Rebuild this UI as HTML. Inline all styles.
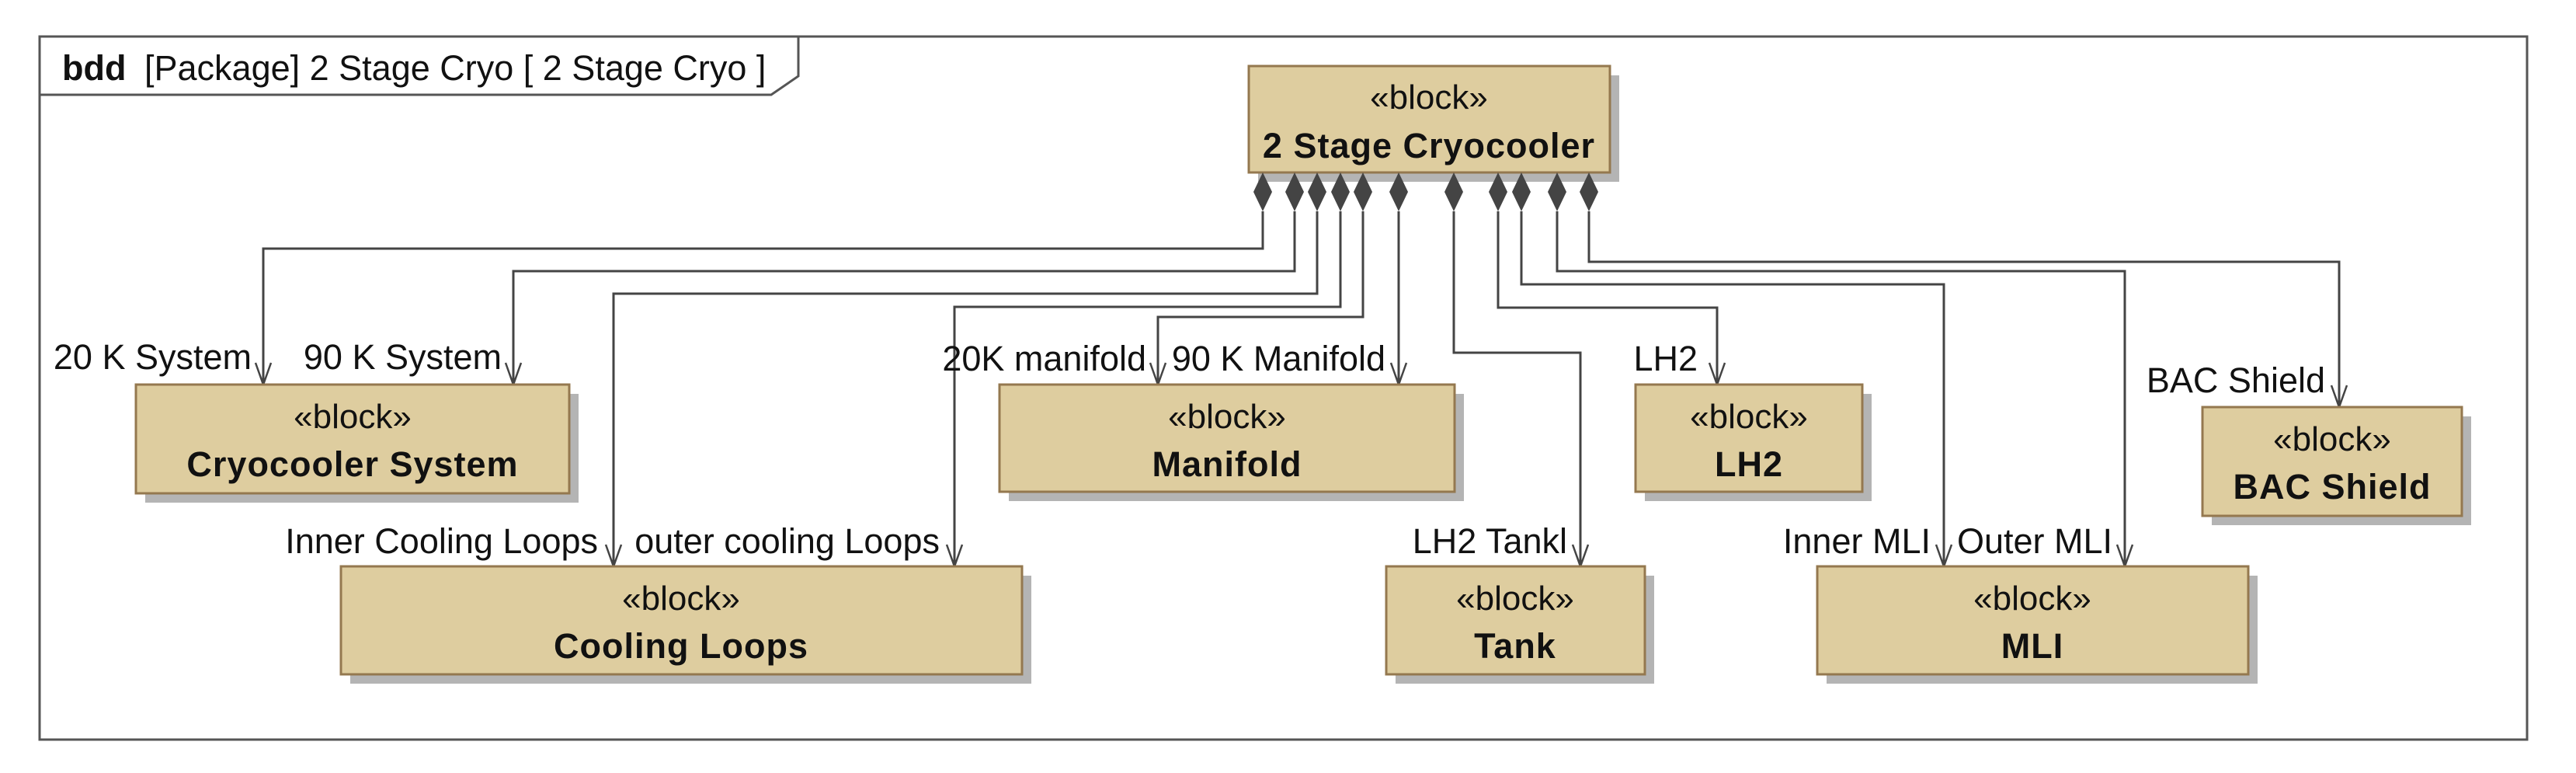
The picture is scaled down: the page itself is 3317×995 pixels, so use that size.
<!DOCTYPE html>
<html><head><meta charset="utf-8"><style>
html,body{margin:0;padding:0;background:#fff;}
svg{display:block;}
text{font-family:"Liberation Sans",Arial,sans-serif;fill:#111;}
.st{font-size:44px;text-anchor:middle;}
.nm{font-size:45px;font-weight:bold;text-anchor:middle;letter-spacing:1px;}
.lb{font-size:45px;text-anchor:end;}
.blk{fill:#decd9f;stroke:#94784f;stroke-width:3;}
.sh{fill:#b4b4b4;}
.ln{fill:none;stroke:#444;stroke-width:3;}
.ar{fill:none;stroke:#444;stroke-width:2.5;}
.dm{fill:#444;}
</style></head><body>
<svg width="3317" height="995" viewBox="0 0 3317 995" xmlns="http://www.w3.org/2000/svg">
<rect x="51" y="47" width="3203" height="905" fill="#fff" stroke="#555" stroke-width="3"/>
<polyline points="51,122 993,122 1028,98 1028,47" fill="none" stroke="#555" stroke-width="3"/>
<text x="80" y="103" style="font-size:45px;font-weight:bold">bdd</text>
<text x="186" y="103" style="font-size:45px">[Package] 2 Stage Cryo [ 2 Stage Cryo ]</text>

<g class="ln">
<polyline points="1626,272 1626,320 339,320 339,495"/>
<polyline points="1667,272 1667,349 661,349 661,495"/>
<polyline points="1696,272 1696,378 790,378 790,729"/>
<polyline points="1726,272 1726,395 1229,395 1229,729"/>
<polyline points="1755,272 1755,408 1491,408 1491,495"/>
<polyline points="1801,272 1801,495"/>
<polyline points="1872,272 1872,454 2035,454 2035,729"/>
<polyline points="1929,272 1929,396 2211,396 2211,495"/>
<polyline points="1959,272 1959,366 2503,366 2503,729"/>
<polyline points="2005,272 2005,349 2736,349 2736,729"/>
<polyline points="2046,272 2046,337 3012,337 3012,524"/>
</g>
<g class="ar">
<polyline points="329,467 339,495 349,467"/>
<polyline points="651,467 661,495 671,467"/>
<polyline points="780,701 790,729 800,701"/>
<polyline points="1219,701 1229,729 1239,701"/>
<polyline points="1481,467 1491,495 1501,467"/>
<polyline points="1791,467 1801,495 1811,467"/>
<polyline points="2025,701 2035,729 2045,701"/>
<polyline points="2201,467 2211,495 2221,467"/>
<polyline points="2493,701 2503,729 2513,701"/>
<polyline points="2726,701 2736,729 2746,701"/>
<polyline points="3002,496 3012,524 3022,496"/>
</g>

<rect class="sh" x="1620" y="97" width="465" height="137"/>
<rect class="blk" x="1608" y="85" width="465" height="137"/>
<text class="st" x="1840" y="140">«block»</text>
<text class="nm" x="1840" y="203">2 Stage Cryocooler</text>
<g class="dm">
<polygon points="1626,222 1638,247 1626,272 1614,247"/>
<polygon points="1667,222 1679,247 1667,272 1655,247"/>
<polygon points="1696,222 1708,247 1696,272 1684,247"/>
<polygon points="1726,222 1738,247 1726,272 1714,247"/>
<polygon points="1755,222 1767,247 1755,272 1743,247"/>
<polygon points="1801,222 1813,247 1801,272 1789,247"/>
<polygon points="1872,222 1884,247 1872,272 1860,247"/>
<polygon points="1929,222 1941,247 1929,272 1917,247"/>
<polygon points="1959,222 1971,247 1959,272 1947,247"/>
<polygon points="2005,222 2017,247 2005,272 1993,247"/>
<polygon points="2046,222 2058,247 2046,272 2034,247"/>
</g>

<rect class="sh" x="187" y="507" width="558" height="140"/>
<rect class="blk" x="175" y="495" width="558" height="140"/>
<text class="st" x="454" y="551">«block»</text>
<text class="nm" x="454" y="613">Cryocooler System</text>

<rect class="sh" x="1299" y="507" width="586" height="138"/>
<rect class="blk" x="1287" y="495" width="586" height="138"/>
<text class="st" x="1580" y="551">«block»</text>
<text class="nm" x="1580" y="613">Manifold</text>

<rect class="sh" x="2118" y="507" width="292" height="138"/>
<rect class="blk" x="2106" y="495" width="292" height="138"/>
<text class="st" x="2252" y="551">«block»</text>
<text class="nm" x="2252" y="613">LH2</text>

<rect class="sh" x="2848" y="536" width="334" height="140"/>
<rect class="blk" x="2836" y="524" width="334" height="140"/>
<text class="st" x="3003" y="580">«block»</text>
<text class="nm" x="3003" y="642">BAC Shield</text>

<rect class="sh" x="451" y="741" width="877" height="139"/>
<rect class="blk" x="439" y="729" width="877" height="139"/>
<text class="st" x="877" y="785">«block»</text>
<text class="nm" x="877" y="847">Cooling Loops</text>

<rect class="sh" x="1797" y="741" width="333" height="139"/>
<rect class="blk" x="1785" y="729" width="333" height="139"/>
<text class="st" x="1951" y="785">«block»</text>
<text class="nm" x="1951" y="847">Tank</text>

<rect class="sh" x="2352" y="741" width="555" height="139"/>
<rect class="blk" x="2340" y="729" width="555" height="139"/>
<text class="st" x="2617" y="785">«block»</text>
<text class="nm" x="2617" y="847">MLI</text>

<text class="lb" x="324" y="475">20 K System</text>
<text class="lb" x="646" y="475">90 K System</text>
<text class="lb" x="770" y="712">Inner Cooling Loops</text>
<text class="lb" x="1210" y="712">outer cooling Loops</text>
<text class="lb" x="1476" y="477">20K manifold</text>
<text class="lb" x="1784" y="477">90 K Manifold</text>
<text class="lb" x="2018" y="712">LH2 Tankl</text>
<text class="lb" x="2186" y="477">LH2</text>
<text class="lb" x="2486" y="712">Inner MLI</text>
<text class="lb" x="2720" y="712">Outer MLI</text>
<text class="lb" x="2994" y="505">BAC Shield</text>
</svg>
</body></html>
